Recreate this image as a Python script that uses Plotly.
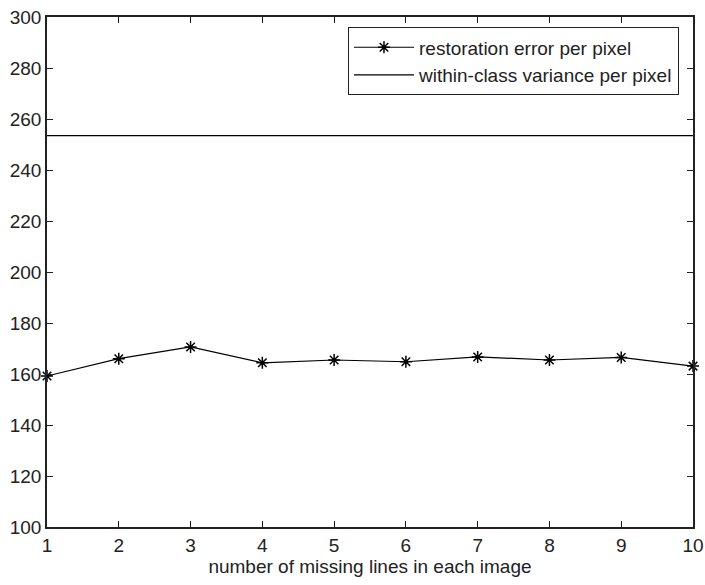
import plotly.graph_objects as go

# Number of missing lines per image (x axis)
missing_lines = [1, 2, 3, 4, 5, 6, 7, 8, 9, 10]
# Restoration error per pixel for each case
restoration_error = [159.2, 166.0, 170.6, 164.4, 165.5, 164.8, 166.7, 165.5, 166.5, 163.1]
# Within-class variance per pixel (constant reference level)
within_class_variance = 253.5
variance_x = [1, 10]
variance_y = [within_class_variance, within_class_variance]

x_ticks = list(range(1, 11))
y_ticks = list(range(100, 301, 20))

FONT = "Liberation Sans"
FS = 19

fig = go.Figure()
fig.add_trace(go.Scatter(
    x=missing_lines, y=restoration_error, mode="lines+markers",
    name="restoration error per pixel",
    line=dict(color="black", width=1.2),
    marker=dict(symbol="asterisk-open", size=10, color="black",
                line=dict(color="black", width=1.5)),
    cliponaxis=False,
))
fig.add_trace(go.Scatter(
    x=variance_x, y=variance_y, mode="lines",
    name="within-class variance per pixel",
    line=dict(color="black", width=1.2),
))

axis_common = dict(
    showgrid=False, zeroline=False, showline=True, linecolor="#222",
    linewidth=1.5, mirror="ticks", ticks="inside", ticklen=6,
    tickcolor="#222", tickwidth=1.2, automargin=False,
    tickfont=dict(family=FONT, size=FS, color="#222"),
)

fig.update_layout(
    width=705, height=585,
    margin=dict(l=47, r=12, t=17, b=58),
    plot_bgcolor="white", paper_bgcolor="white",
    font=dict(family=FONT, size=FS, color="#222"),
    xaxis=dict(range=[1, 10], tickvals=x_ticks,
               title=dict(text="number of missing lines in each image",
                          font=dict(family=FONT, size=FS, color="#222"),
                          standoff=2),
               **axis_common),
    yaxis=dict(range=[100, 300], tickvals=y_ticks, **axis_common),
    legend=dict(
        x=0.978, xanchor="right", y=0.98, yanchor="top",
        bgcolor="white", bordercolor="#222", borderwidth=1.2,
        font=dict(family=FONT, size=FS, color="#222"),
        itemwidth=60, tracegroupgap=0,
    ),
    showlegend=True,
)

fig.write_html("out.html")
